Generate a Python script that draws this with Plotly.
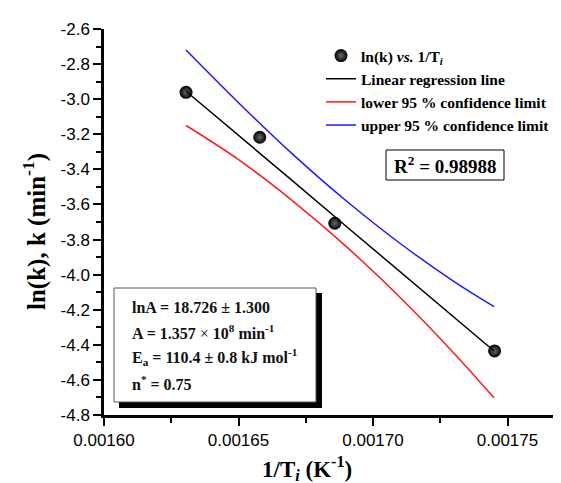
import plotly.graph_objects as go

# ---- data ----
pt_x = [0.0016305, 0.0016579, 0.0016858, 0.0017452]
pt_y = [-2.961, -3.217, -3.707, -4.435]

line_x = [0.0016305, 0.00165, 0.00167, 0.00169, 0.00171, 0.00173, 0.001745]
fit_y = [-2.955, -3.204, -3.464, -3.724, -3.984, -4.244, -4.435]
lower_y = [-3.150, -3.344, -3.578, -3.839, -4.129, -4.446, -4.702]
upper_y = [-2.720, -3.020, -3.312, -3.579, -3.821, -4.038, -4.182]

x_ticks = [0.00160, 0.00165, 0.00170, 0.00175]
x_ticklabels = ["0.00160", "0.00165", "0.00170", "0.00175"]
y_ticks = [-4.8, -4.6, -4.4, -4.2, -4.0, -3.8, -3.6, -3.4, -3.2, -3.0, -2.8, -2.6]
y_ticklabels = ["-4.8", "-4.6", "-4.4", "-4.2", "-4.0", "-3.8", "-3.6", "-3.4", "-3.2", "-3.0", "-2.8", "-2.6"]

# ---- layout geometry (pixels) ----
W, H = 561, 483
L, R, T, B = 96, 559, 21, 407

def fx(p):
    return (p - L) / (R - L)

def fy(p):
    return (B - p) / (B - T)

SERIF = "Liberation Serif, Times New Roman, serif"
SANS = "Liberation Sans, Arial, sans-serif"

fig = go.Figure()
fig.add_trace(go.Scatter(
    x=pt_x, y=pt_y, mode="markers",
    name="<b>ln(k) <i>vs.</i> 1/T<sub><i>i</i></sub></b>",
    marker=dict(size=13, color="black", gradient=dict(type="radial", color="#6a6a6a"),
                line=dict(width=0)),
))
fig.add_trace(go.Scatter(x=line_x, y=fit_y, mode="lines", name="<b>Linear regression line</b>",
                         line=dict(color="black", width=1.5)))
fig.add_trace(go.Scatter(x=line_x, y=lower_y, mode="lines", name="<b>lower 95 % confidence limit</b>",
                         line=dict(color="#ff1a1a", width=1.5, shape="spline")))
fig.add_trace(go.Scatter(x=line_x, y=upper_y, mode="lines", name="<b>upper 95 % confidence limit</b>",
                         line=dict(color="#1a1aff", width=1.5, shape="spline")))

shapes = [
    # R^2 box
    dict(type="rect", xref="paper", yref="paper", x0=fx(378), x1=fx(496), y0=fy(172), y1=fy(142),
         line=dict(color="black", width=1), fillcolor="white", layer="above"),
    # parameter box shadow
    dict(type="rect", xref="paper", yref="paper", x0=fx(111), x1=fx(314), y0=fy(400), y1=fy(285),
         line=dict(width=0), fillcolor="black", layer="above"),
    # parameter box
    dict(type="rect", xref="paper", yref="paper", x0=fx(106), x1=fx(308), y0=fy(394), y1=fy(280),
         line=dict(color="#555", width=1), fillcolor="white", layer="above"),
]

ann = []
ann.append(dict(xref="paper", yref="paper", x=fx(437), y=fy(157), text="<b>R<sup>2</sup> = 0.98988</b>",
                showarrow=False, font=dict(family=SERIF, size=19, color="black"),
                xanchor="center", yanchor="middle"))
box_lines = [
    ("<b>lnA = 18.726 ± 1.300</b>", 299),
    ("<b>A = 1.357 </b>×<b> 10<sup>8</sup> min<sup>-1</sup></b>", 324),
    ("<b>E<sub>a</sub> = 110.4 ± 0.8 kJ mol<sup>-1</sup></b>", 349),
    ("<b>n<sup>*</sup> = 0.75</b>", 375),
]
for txt, yy in box_lines:
    ann.append(dict(xref="paper", yref="paper", x=fx(122), y=fy(yy), text=txt, showarrow=False,
                    font=dict(family=SERIF, size=16, color="#111"), xanchor="left", yanchor="middle"))
# axis titles
ann.append(dict(xref="paper", yref="paper", x=fx(299), y=fy(460),
                text="<b>1/T<sub><i>i</i></sub> (K<sup>-1</sup>)</b>", showarrow=False,
                font=dict(family=SERIF, size=23, color="black"), xanchor="center", yanchor="middle"))
ann.append(dict(xref="paper", yref="paper", x=fx(26), y=fy(224),
                text="<b>ln(k), k (min<sup>-1</sup>)</b>", showarrow=False, textangle=-90,
                font=dict(family=SERIF, size=25, color="black"), xanchor="center", yanchor="middle"))

axis_common = dict(showline=True, linecolor="black", linewidth=2.5, ticks="outside", ticklen=8,
                   tickwidth=2, tickcolor="black", showgrid=False, zeroline=False, mirror=False,
                   tickfont=dict(family=SANS, size=17, color="black"))

fig.update_layout(
    width=W, height=H,
    margin=dict(l=L, r=W - R, t=T, b=H - B),
    paper_bgcolor="white", plot_bgcolor="white",
    showlegend=True,
    legend=dict(x=fx(313), y=fy(31), xanchor="left", yanchor="top",
                font=dict(family=SERIF, size=15.5, color="black"), bgcolor="rgba(0,0,0,0)",
                tracegroupgap=0, itemwidth=30),
    xaxis=dict(range=[0.0016, 0.0016 + (R - L) / 134.5 * 0.00005], tickvals=x_ticks,
               ticktext=x_ticklabels,
               minor=dict(ticks="outside", ticklen=5, tickwidth=2, tickcolor="black", dtick=0.000025),
               **axis_common),
    yaxis=dict(range=[-4.8, -2.6], tickvals=y_ticks, ticktext=y_ticklabels,
               minor=dict(ticks="outside", ticklen=5, tickwidth=2, tickcolor="black", dtick=0.1),
               **axis_common),
    shapes=shapes, annotations=ann,
)

fig.write_html("out.html")
